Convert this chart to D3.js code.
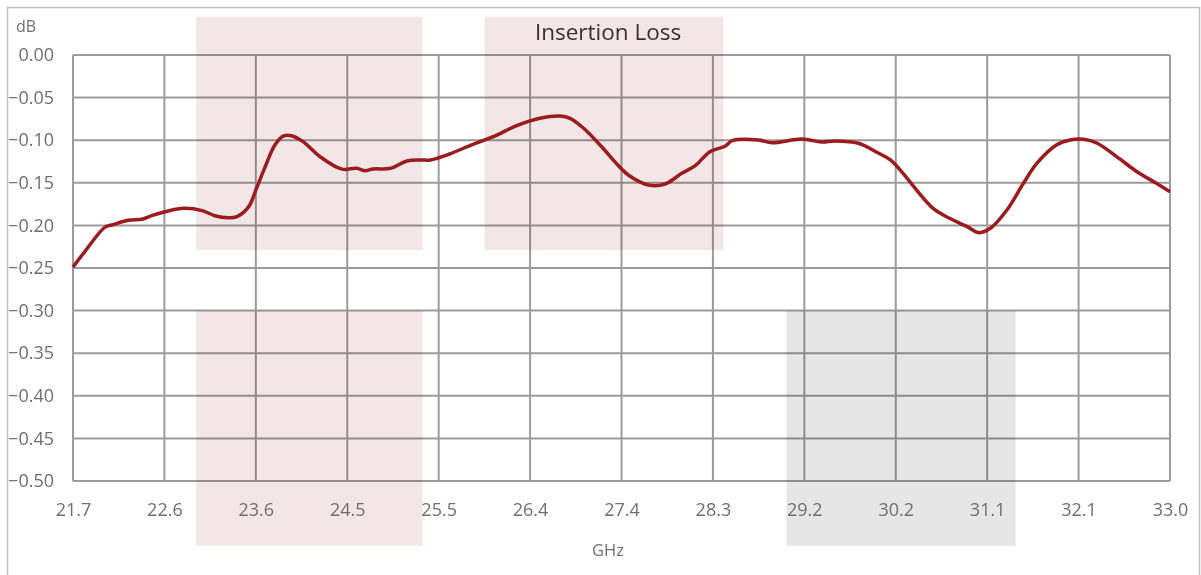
<!DOCTYPE html>
<html>
<head>
<meta charset="utf-8">
<script src="https://cdn.jsdelivr.net/npm/d3@7"></script>
<style>
  body { margin: 0; background: #fff; }
  svg text { font-family: "Open Sans", sans-serif; }
</style>
</head>
<body>
<div id="draw"></div>
<script>
// frequency (GHz) and insertion loss (dB)
const freq = [21.70, 21.82, 22.03, 22.10, 22.27, 22.42, 22.51, 22.65, 22.84, 23.03,
  23.16, 23.30, 23.39, 23.51, 23.59, 23.68, 23.78, 23.87, 23.95, 24.07,
  24.24, 24.47, 24.62, 24.71, 24.79, 24.97, 25.14, 25.27, 25.38, 25.58,
  25.82, 26.03, 26.27, 26.51, 26.72, 26.82, 26.96, 27.16, 27.28, 27.42,
  27.63, 27.80, 27.97, 28.11, 28.26, 28.42, 28.49, 28.76, 28.90, 29.21,
  29.41, 29.55, 29.79, 30.00, 30.12, 30.25, 30.39, 30.56, 30.73, 30.91,
  31.03, 31.15, 31.32, 31.49, 31.63, 31.83, 31.97, 32.11, 32.25, 32.45,
  32.66, 32.86, 33.00];
const loss = [-0.249, -0.231, -0.202, -0.1995, -0.194, -0.1925, -0.1886, -0.184, -0.180, -0.1827,
  -0.1886, -0.191, -0.1897, -0.178, -0.1565, -0.131, -0.1056, -0.095, -0.0947, -0.1017,
  -0.119, -0.134, -0.133, -0.1358, -0.1338, -0.133, -0.1244, -0.1232, -0.1232, -0.1162,
  -0.1048, -0.0959, -0.083, -0.0743, -0.0716, -0.0743, -0.086, -0.1095, -0.1252, -0.1408,
  -0.1526, -0.1514, -0.1389, -0.1299, -0.1135, -0.1068, -0.1006, -0.0998, -0.103, -0.0986,
  -0.1021, -0.1009, -0.1036, -0.1154, -0.1232, -0.1389, -0.1585, -0.180, -0.1917, -0.2015,
  -0.2085, -0.2034, -0.182, -0.1506, -0.127, -0.1056, -0.0998, -0.099, -0.1036, -0.1193,
  -0.137, -0.1506, -0.1604];

// shaded spec windows: [f0, f1, dBtop, dBbottom]
const bandsPink = [[22.97, 25.30, 0.045, -0.229], [22.97, 25.30, -0.30, -0.576], [25.94, 28.40, 0.045, -0.229]];
const bandsGray = [[29.05, 31.41, -0.30, -0.576]];

const xTicks = d3.range(13).map(i => 21.7 + i * (33.0 - 21.7) / 12);
const yTicks = d3.range(0, -0.5001, -0.05);

const W = 1201, H = 575;
const m = {left: 73, right: 31, top: 55, bottom: 94};

const svg = d3.select("#draw").append("svg")
    .attr("width", W)
    .attr("height", H);

const x = d3.scaleLinear().domain([21.7, 33.0]).range([m.left, W - m.right]);
const y = d3.scaleLinear().domain([0, -0.5]).range([m.top, H - m.bottom]);

//outer chart frame
svg.append("rect")
    .attr("x", 7.5).attr("y", 7.5)
    .attr("width", 1192).attr("height", 600)
    .attr("fill", "none")
    .attr("stroke", "#bfbfbf")
    .attr("stroke-width", 1.5);

//spec bands behind the grid
function drawBands(list, color) {
    svg.append("g").selectAll("rect")
        .data(list)
        .join("rect")
        .attr("x", d => x(d[0]))
        .attr("y", d => y(d[2]))
        .attr("width", d => x(d[1]) - x(d[0]))
        .attr("height", d => y(d[3]) - y(d[2]))
        .attr("fill", color);
}
drawBands(bandsPink, "#f3e6e6");
drawBands(bandsGray, "#e6e6e6");

//grid
const grid = svg.append("g").style("mix-blend-mode", "multiply");
grid.selectAll(".v")
    .data(xTicks)
    .join("line")
    .attr("x1", d => x(d)).attr("x2", d => x(d))
    .attr("y1", y(0)).attr("y2", y(-0.5))
    .attr("stroke", "#9b9b9b").attr("stroke-width", 2);
grid.selectAll(".h")
    .data(yTicks)
    .join("line")
    .attr("x1", x(21.7)).attr("x2", x(33.0))
    .attr("y1", d => y(d)).attr("y2", d => y(d))
    .attr("stroke", "#9b9b9b").attr("stroke-width", 2);

//axes, only the labels
const xAxis = d3.axisBottom(x).tickValues(xTicks).tickFormat(d3.format(".1f")).tickSize(0).tickPadding(22);
const yAxis = d3.axisLeft(y).tickValues(yTicks).tickFormat(d => d3.format(".2f")(Math.abs(d) < 1e-9 ? 0 : d)).tickSize(0).tickPadding(19);

const gx = svg.append("g").attr("transform", `translate(0,${y(-0.5)})`).call(xAxis);
const gy = svg.append("g").attr("transform", `translate(${x(21.7)},0)`).call(yAxis);
[gx, gy].forEach(g => {
    g.select(".domain").remove();
    g.selectAll("text").attr("fill", "#6f6f6f").style("font-size", "18px");
});

//the curve
const line = d3.line()
    .x((d, i) => x(freq[i]))
    .y(d => y(d))
    .curve(d3.curveCatmullRom);

svg.append("path")
    .datum(loss)
    .attr("d", line)
    .attr("fill", "none")
    .attr("stroke", "#9c1b1f")
    .attr("stroke-width", 3.5)
    .attr("stroke-linejoin", "round");

//texts
svg.append("text")
    .attr("x", 608).attr("y", 40)
    .attr("text-anchor", "middle")
    .attr("fill", "#3a3030")
    .style("font-size", "22.5px")
    .text("Insertion Loss");

svg.append("text")
    .attr("x", 16).attr("y", 32)
    .attr("fill", "#6f6f6f")
    .style("font-size", "16px")
    .text("dB");

svg.append("text")
    .attr("x", 608).attr("y", 556)
    .attr("text-anchor", "middle")
    .attr("fill", "#6f6f6f")
    .style("font-size", "16.5px")
    .text("GHz");
</script>
</body>
</html>
